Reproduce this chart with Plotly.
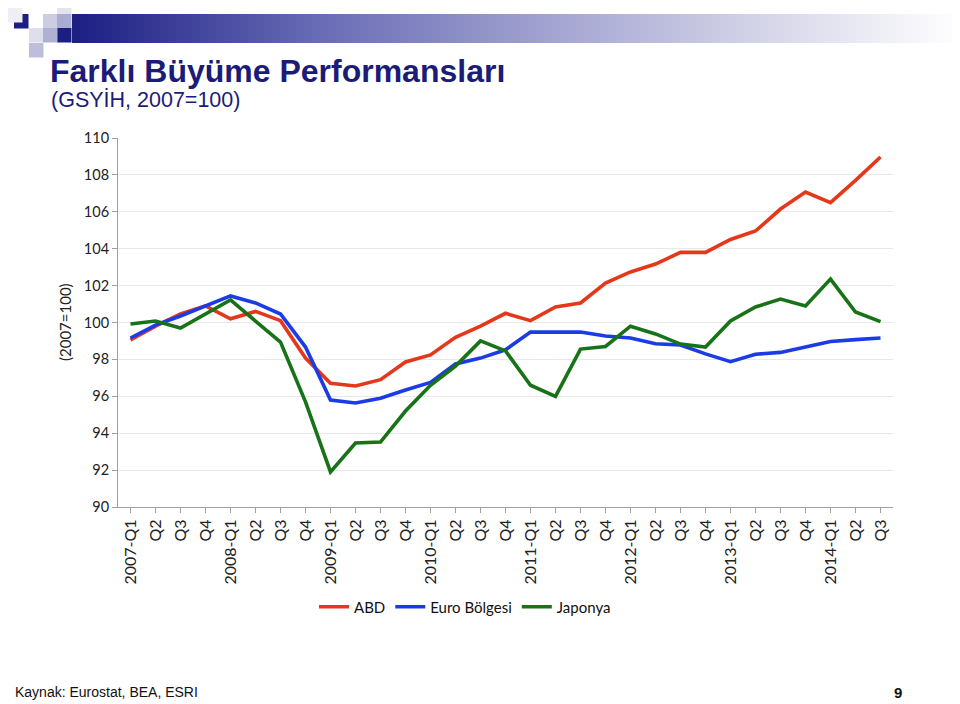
import plotly.graph_objects as go

quarters = ["2007-Q1", "Q2", "Q3", "Q4", "2008-Q1", "Q2", "Q3", "Q4",
            "2009-Q1", "Q2", "Q3", "Q4", "2010-Q1", "Q2", "Q3", "Q4",
            "2011-Q1", "Q2", "Q3", "Q4", "2012-Q1", "Q2", "Q3", "Q4",
            "2013-Q1", "Q2", "Q3", "Q4", "2014-Q1", "Q2", "Q3"]
cat_ids = list(range(len(quarters)))

abd = [99.05, 99.8, 100.46, 100.9, 100.2, 100.6, 100.1, 98.07,
       96.7, 96.56, 96.9, 97.86, 98.24, 99.2, 99.8, 100.5,
       100.1, 100.84, 101.06, 102.14, 102.74, 103.17, 103.8, 103.8,
       104.5, 104.96, 106.15, 107.07, 106.5, 107.7, 108.97]
euro = [99.16, 99.86, 100.35, 100.9, 101.44, 101.06, 100.46, 98.67,
        95.8, 95.64, 95.9, 96.34, 96.75, 97.75, 98.07, 98.52,
        99.48, 99.48, 99.48, 99.27, 99.16, 98.85, 98.78, 98.3,
        97.88, 98.28, 98.38, 98.67, 98.97, 99.07, 99.16]
japonya = [99.92, 100.08, 99.7, 100.46, 101.22, 100.08, 98.94, 95.7,
           91.9, 93.47, 93.52, 95.2, 96.6, 97.64, 99.0, 98.46,
           96.6, 96.0, 98.56, 98.7, 99.8, 99.38, 98.83, 98.67,
           100.08, 100.84, 101.27, 100.9, 102.35, 100.57, 100.05]

series_names = ["ABD", "Euro Bölgesi", "Japonya"]
series_colors = ["#E5381B", "#1B3BE6", "#187318"]

# page body has an 8px margin: figure is drawn offset by 8px
OFF = 8
W, H = 960 - OFF, 704 - OFF
PL, PR, PT, PB = 118, 893, 138, 507          # plot area in window pixels
L, T = PL - OFF, PT - OFF
R, B = W - (PR - OFF), H - (PB - OFF)
PW, PH = W - L - R, H - T - B


def px_x(x):
    return (x - OFF - L) / PW


def px_y(y):
    return (H - B - (y - OFF)) / PH


fig = go.Figure()
for name, vals, col in zip(series_names, [abd, euro, japonya], series_colors):
    fig.add_trace(go.Scatter(x=cat_ids, y=vals, mode="lines", name=name,
                             line=dict(color=col, width=3.6)))

shapes = []
# gradient bar
stops = [(72, (28, 30, 130)), (320, (105, 108, 182)), (560, (165, 166, 210)),
         (760, (212, 212, 232)), (960, (255, 255, 255))]


def grad(x):
    for (x0, c0), (x1, c1) in zip(stops[:-1], stops[1:]):
        if x0 <= x <= x1:
            t = (x - x0) / (x1 - x0)
            return tuple(int(round(a + (b - a) * t)) for a, b in zip(c0, c1))
    return stops[-1][1]


step = 8
x = 72
while x < 960:
    c = grad(x + step / 2)
    shapes.append(dict(type="rect", xref="paper", yref="paper",
                       x0=px_x(x), x1=px_x(min(x + step + 0.5, 960)),
                       y0=px_y(43), y1=px_y(14), line=dict(width=0),
                       fillcolor="rgb(%d,%d,%d)" % c, layer="below"))
    x += step

squares = [
    (14, 14, "rgb(28,30,130)"),
    (43, 14, "rgb(205,205,226)"),
    (57, 0, "rgb(228,228,238)"),
    (57, 14, "rgb(170,172,210)"),
    (57, 28, "rgb(28,30,130)"),
    (29, 28, "rgb(222,222,236)"),
    (43, 28, "rgb(175,176,212)"),
    (29, 43, "rgb(190,190,220)"),
    (8, 8, "rgb(238,238,244)"),
]
for sx, sy, col in squares:
    shapes.append(dict(type="rect", xref="paper", yref="paper",
                       x0=px_x(sx), x1=px_x(sx + 14.5), y0=px_y(sy + 14.5), y1=px_y(sy),
                       line=dict(width=0), fillcolor=col, layer="below"))

annotations = [
    dict(text="<b>Farklı Büyüme Performansları</b>", xref="paper", yref="paper",
         x=px_x(48), y=px_y(71), xanchor="left", yanchor="middle", showarrow=False,
         font=dict(family="Liberation Sans, Arial", size=32, color="#1B1B78")),
    dict(text="(GSYİH, 2007=100)", xref="paper", yref="paper",
         x=px_x(49), y=px_y(100), xanchor="left", yanchor="middle", showarrow=False,
         font=dict(family="Liberation Sans, Arial", size=21.5, color="#1B1B78")),
    dict(text="(2007=100)", xref="paper", yref="paper", textangle=-90,
         x=px_x(65), y=px_y(322), xanchor="center", yanchor="middle", showarrow=False,
         font=dict(family="Lato, Open Sans", size=15, color="#222222")),
    dict(text="Kaynak: Eurostat, BEA, ESRI", xref="paper", yref="paper",
         x=px_x(13), y=px_y(692), xanchor="left", yanchor="middle", showarrow=False,
         font=dict(family="Liberation Sans, Arial", size=14, color="#111111")),
    dict(text="<b>9</b>", xref="paper", yref="paper",
         x=px_x(898), y=px_y(692), xanchor="center", yanchor="middle", showarrow=False,
         font=dict(family="Liberation Sans, Arial", size=15, color="#111111")),
]

fig.update_layout(
    width=W, height=H,
    margin=dict(l=L, r=R, t=T, b=B),
    paper_bgcolor="white", plot_bgcolor="white",
    shapes=shapes, annotations=annotations,
    font=dict(family="Lato, Open Sans", color="#222222", size=14),
    legend=dict(orientation="h", x=px_x(465), y=px_y(607), xanchor="center", yanchor="middle",
                font=dict(family="Lato, Open Sans", size=15, color="#111111"),
                bgcolor="rgba(0,0,0,0)", itemwidth=30),
    showlegend=True,
    xaxis=dict(tickmode="array", tickvals=cat_ids, ticktext=quarters, tickangle=-90,
               range=[-0.5, len(quarters) - 0.5], showgrid=False, zeroline=False,
               showline=True, linecolor="#A0A0A0", linewidth=1,
               ticks="outside", ticklen=5, tickcolor="#A0A0A0", tickson="boundaries",
               tickfont=dict(family="Lato, Open Sans", size=16, color="#222222")),
    yaxis=dict(range=[90, 110], dtick=2, tick0=90, showgrid=True, gridcolor="#E8E8E8",
               gridwidth=1, zeroline=False, showline=True, linecolor="#A0A0A0", linewidth=1,
               ticks="outside", ticklen=5, tickcolor="#A0A0A0",
               tickfont=dict(family="Lato, Open Sans", size=14.5, color="#222222")),
)

fig.write_html("out.html")
